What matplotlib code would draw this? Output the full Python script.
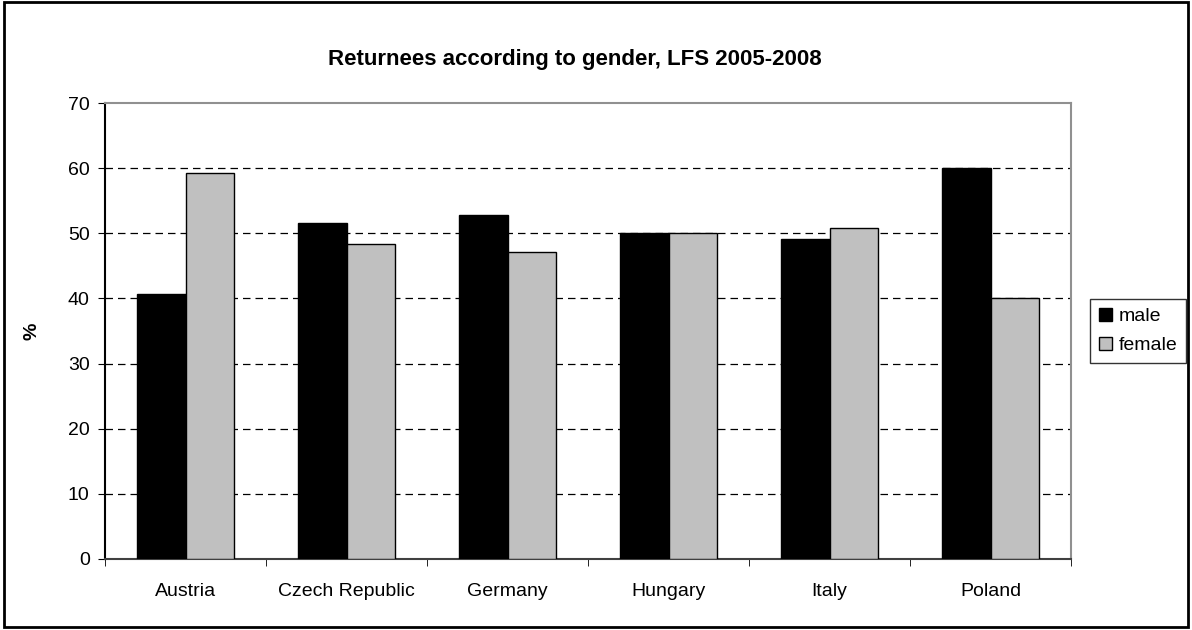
import matplotlib.pyplot as plt
import numpy as np
from matplotlib.patches import Rectangle

plt.rcParams["font.family"] = ["Liberation Sans", "DejaVu Sans"]

countries = ["Austria", "Czech Republic", "Germany", "Hungary", "Italy", "Poland"]
male = [40.7, 51.6, 52.8, 50.0, 49.2, 60.0]
female = [59.3, 48.4, 47.2, 50.0, 50.8, 40.0]
yticks = [0, 10, 20, 30, 40, 50, 60, 70]

fig = plt.figure(figsize=(11.92, 6.3), dpi=100)
ax = fig.add_axes([0.0881, 0.1127, 0.8104, 0.7238])

x = np.arange(len(countries))
w = 0.3
ax.bar(x - w / 2, male, w, color="black", edgecolor="black", linewidth=1, label="male", zorder=3)
ax.bar(x + w / 2, female, w, color="#c0c0c0", edgecolor="black", linewidth=1, label="female", zorder=3)

ax.set_xlim(-0.5, len(countries) - 0.5)
ax.set_ylim(0, 70)
ax.set_yticks(yticks)
ax.set_xticks(x)
ax.set_xticklabels(countries)
ax.set_xticks(np.arange(len(countries) + 1) - 0.5, minor=True)
ax.tick_params(axis="x", which="major", length=0, pad=17, labelsize=14)
ax.tick_params(axis="x", which="minor", length=5, direction="out", color="black")
ax.tick_params(axis="y", length=5, direction="out", labelsize=14, pad=6)

for v in yticks[1:-1]:
    ax.axhline(v, color="black", linestyle=(0, (6, 4)), linewidth=0.9, zorder=1)

ax.spines["left"].set_color("black")
ax.spines["bottom"].set_color("#404040")
ax.spines["top"].set_color("#909090")
ax.spines["right"].set_color("#909090")
for s in ax.spines.values():
    s.set_linewidth(1.5)

ax.set_ylabel("%", fontsize=14, fontweight="bold", labelpad=20)
fig.text(0.482, 0.906, "Returnees according to gender, LFS 2005-2008",
         ha="center", va="center", fontsize=16, fontweight="bold")

ax.legend(loc="center left", bbox_to_anchor=(1.02, 0.5), frameon=True, fancybox=False,
          edgecolor="black", fontsize=14, handlelength=0.65, handleheight=0.65,
          handletextpad=0.35, labelspacing=0.6, borderpad=0.45, borderaxespad=0)

fig.patches.append(Rectangle((0.003, 0.004), 0.994, 0.993, transform=fig.transFigure,
                             fill=False, edgecolor="black", linewidth=2))

fig.savefig("out.png", dpi=100)
